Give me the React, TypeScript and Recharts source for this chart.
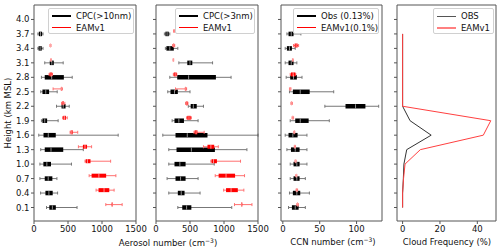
import React from 'react';
import { ScatterChart, Scatter, ErrorBar, XAxis, YAxis } from 'recharts';

const heights = [0.1, 0.4, 0.7, 1.0, 1.3, 1.6, 1.9, 2.2, 2.5, 2.8, 3.1, 3.4, 3.7];
const heightTicks = [0.1, 0.4, 0.7, 1.0, 1.3, 1.6, 1.9, 2.2, 2.5, 2.8, 3.1, 3.4, 3.7, 4.0];
const aerosolTicks = [0, 500, 1000, 1500];
const ccnTicks = [0, 50, 100];
const cloudTicks = [0, 20, 40];

// [whisker low, Q1, median, Q3, whisker high] per height level (0.1 ... 3.7 km)
const cpc10Obs = [
  [184, 225, 270, 321, 633],
  [97, 168, 219, 275, 347],
  [87, 158, 209, 270, 337],
  [87, 138, 189, 250, 551],
  [99, 158, 250, 430, 725],
  [70, 140, 210, 320, 1238],
  [109, 124, 158, 193, 355],
  [331, 405, 429, 464, 518],
  [99, 124, 173, 222, 341],
  [109, 158, 260, 439, 562],
  [158, 232, 262, 291, 429],
  [57, 67, 90, 114, 133],
  [57, 71, 95, 119, 133],
];
const cpc10Model = [
  [1056, 1140, 1150, 1160, 1296],
  [913, 949, 1030, 1107, 1178],
  [811, 847, 954, 1061, 1204],
  [750, 760, 786, 831, 1127],
  [653, 719, 750, 780, 847],
  [531, 540, 555, 570, 643],
  [420, 430, 450, 470, 489],
  [405, 415, 428, 440, 454],
  [281, 395, 405, 412, 418],
  [222, 230, 250, 268, 272],
  [245, 248, 250, 252, 255],
  [235, 238, 242, 246, 250],
  null,
];
const cpc3Obs = [
  [321, 386, 450, 520, 1114],
  [188, 321, 371, 420, 648],
  [163, 287, 361, 435, 619],
  [188, 272, 351, 435, 856],
  [188, 302, 520, 866, 1337],
  [100, 287, 460, 757, 1500],
  [237, 272, 336, 411, 619],
  [475, 510, 549, 599, 698],
  [173, 213, 272, 321, 500],
  [203, 312, 480, 881, 1104],
  [336, 460, 500, 534, 832],
  [138, 153, 203, 262, 321],
  [123, 138, 163, 188, 203],
];
const cpc3Model = [
  [1154, 1250, 1260, 1270, 1411],
  [995, 1030, 1104, 1203, 1292],
  [871, 921, 1030, 1163, 1302],
  [807, 817, 846, 896, 1243],
  [698, 757, 807, 856, 916],
  [559, 569, 590, 609, 708],
  [450, 460, 485, 510, 520],
  [435, 440, 452, 465, 470],
  [287, 425, 435, 443, 450],
  [255, 262, 282, 302, 305],
  [250, 252, 255, 258, 260],
  [245, 252, 260, 268, 275],
  [258, 262, 266, 270, 274],
];
const ccnObs = [
  [7.7, 12.3, 16.8, 21.4, 30.5],
  [9, 13.6, 19, 23.6, 36],
  [10, 14.5, 19, 22.7, 30.5],
  [10, 14.5, 19, 22.7, 32.7],
  [5.5, 11, 16.8, 22.7, 32.7],
  [3.2, 7.7, 13.6, 20, 32.7],
  [10, 16.8, 23.6, 35, 63],
  [57, 85, 98.6, 112, 130],
  [9, 13.6, 23.6, 36.4, 69],
  [4.5, 10, 14.5, 19, 26],
  [3.2, 7.7, 11.4, 14.5, 19],
  [3.2, 5.5, 9, 12.3, 16.8],
  [5.5, 7.7, 11.4, 14.5, 24.5],
];
const ccnModel = [
  [19, 19.5, 20, 20.5, 21],
  [18, 18.5, 19, 19.5, 20],
  [17.5, 18, 18.2, 18.5, 19],
  [16.5, 17, 17.3, 17.6, 18],
  [15.5, 16, 16.4, 16.8, 17.2],
  [14.8, 15.2, 15.5, 15.8, 16.2],
  [12.5, 13.2, 13.6, 14, 14.6],
  [11, 11.6, 12, 12.4, 13],
  [9, 9.6, 10, 10.4, 11],
  [10, 11, 14, 17, 17.5],
  [13, 13.4, 13.6, 13.8, 14.2],
  [14.5, 16, 18, 20, 21.4],
  null,
];
const cloudObs = [0, 0, 0.4, 0.7, 2.2, 15.3, 4, 0, 0, 0, 0, 0, 0];
const cloudModel = [0, 0, 0.5, 1.3, 9.5, 43.2, 47.2, 0, 0, 0, 0, 0, 0];

const MODEL_SHIFT = 0.06;
const FONT = '"DejaVu Sans", sans-serif';
const AX = '#555';
const TOP = 5;
const BOTTOM = 221;
const Y_DOMAIN = [-0.18, 4.3];
const XAXIS_H = 20;
const YAXIS_W = 24;

type Stats = number[] | null;

function boxRows(stats: Stats[], shift: number) {
  const rows: any[] = [];
  stats.forEach((s, i) => {
    if (!s) return;
    rows.push({
      h: heights[i] + shift,
      x: s[2],
      whisk: [s[2] - s[0], s[4] - s[2]],
      box: [s[2] - s[1], s[3] - s[2]],
    });
  });
  return rows;
}

const medianShape = (props: any) => {
  const { cx, cy } = props;
  if (cx == null || cy == null) return <g />;
  return <line x1={cx} x2={cx} y1={cy - 2} y2={cy + 2} stroke="#fff" strokeOpacity={0.7} strokeWidth={0.8} />;
};
const noShape = () => <g />;

const tickStyle = { fontSize: 8.5, fill: '#111', fontFamily: FONT };

function chartMargin(left: number, right: number) {
  return { top: TOP - 1, bottom: 252 - BOTTOM - XAXIS_H, left: left - YAXIS_W, right: 500 - right - 1 };
}

function PanelFrame(props: { left: number; right: number; xDomain: number[]; xTicks: number[]; showY: boolean; children: React.ReactNode }) {
  const { left, right, xDomain, xTicks, showY, children } = props;
  return (
    <div style={{ position: 'absolute', left: 0, top: 0 }}>
      <ScatterChart width={500} height={252} margin={chartMargin(left, right)}>
        <XAxis type="number" dataKey="x" domain={xDomain} ticks={xTicks} allowDataOverflow interval={0}
          height={XAXIS_H} tickSize={3} tickMargin={1.5} tick={tickStyle} tickLine={{ stroke: AX }} axisLine={{ stroke: AX }} />
        <XAxis xAxisId="top" orientation="top" type="number" domain={xDomain} allowDataOverflow height={1}
          tick={false} tickLine={false} axisLine={{ stroke: AX }} />
        <YAxis type="number" dataKey="h" domain={Y_DOMAIN} ticks={heightTicks} allowDataOverflow interval={0}
          width={YAXIS_W} tickSize={3} tickMargin={1.5} tick={tickStyle}
          tickFormatter={(v: number) => (showY ? v.toFixed(1) : '')} tickLine={{ stroke: AX }} axisLine={{ stroke: AX }} />
        <YAxis yAxisId="right" orientation="right" type="number" domain={Y_DOMAIN} allowDataOverflow width={1}
          tick={false} tickLine={false} axisLine={{ stroke: AX }} />
        {children}
      </ScatterChart>
    </div>
  );
}

function boxSeries(rows: any[], whiskColor: string, boxColor: string, boxW: number) {
  return (
    <Scatter data={rows} isAnimationActive={false} shape={medianShape}>
      <ErrorBar dataKey="whisk" direction="x" width={1.5} stroke={whiskColor} strokeWidth={1} isAnimationActive={false} />
      <ErrorBar dataKey="box" direction="x" width={0} stroke={boxColor} strokeWidth={boxW} isAnimationActive={false} />
    </Scatter>
  );
}

function BoxPanel(props: {
  left: number; right: number; xDomain: number[]; xTicks: number[];
  obs: Stats[]; model: Stats[]; showY: boolean;
}) {
  const { obs, model, ...rest } = props;
  return (
    <PanelFrame {...rest}>
      {boxSeries(boxRows(obs, 0), '#777', '#000', 4.5)}
      {boxSeries(boxRows(model, MODEL_SHIFT), '#ff7070', '#ff0000', 4)}
    </PanelFrame>
  );
}

function CloudPanel({ left, right }: { left: number; right: number }) {
  const obsRows = heights.map((h, i) => ({ h, x: cloudObs[i] }));
  const modelRows = heights.map((h, i) => ({ h, x: cloudModel[i] }));
  return (
    <PanelFrame left={left} right={right} xDomain={[-3, 50]} xTicks={cloudTicks} showY={false}>
      <Scatter data={obsRows} isAnimationActive={false} shape={noShape} line={{ stroke: '#333', strokeWidth: 1 }} />
      <Scatter data={modelRows} isAnimationActive={false} shape={noShape} line={{ stroke: '#ff4040', strokeWidth: 1 }} />
    </PanelFrame>
  );
}

function LegendBox({ left, width, items }: { left: number; width: number; items: { label: string; color: string; w: number }[] }) {
  return (
    <div style={{
      position: 'absolute', left, top: 8, width, height: 26, boxSizing: 'border-box',
      border: '1px solid #d0d0d0', borderRadius: 2, background: 'rgba(255,255,255,0.85)',
      fontFamily: FONT, fontSize: 8.5, color: '#111',
    }}>
      {items.map((it, i) => (
        <div key={i} style={{ position: 'absolute', left: 3, top: 2 + i * 11.5, height: 10, display: 'flex', alignItems: 'center' }}>
          <div style={{ width: 19, height: it.w, background: it.color }} />
          <span style={{ marginLeft: 5, whiteSpace: 'nowrap', lineHeight: '10px' }}>{it.label}</span>
        </div>
      ))}
    </div>
  );
}

const labelStyle: React.CSSProperties = {
  position: 'absolute', fontFamily: FONT, fontSize: 8.5, color: '#111', whiteSpace: 'nowrap',
  transform: 'translate(-50%, -50%)',
};

export default function App() {
  return (
    <div style={{ position: 'absolute', left: 0, top: 0, width: 500, height: 252, background: '#fff', overflow: 'hidden' }}>
      <BoxPanel left={34} right={136} xDomain={[0, 1500]} xTicks={aerosolTicks} obs={cpc10Obs} model={cpc10Model} showY />
      <BoxPanel left={156} right={258} xDomain={[0, 1500]} xTicks={aerosolTicks} obs={cpc3Obs} model={cpc3Model} showY={false} />
      <BoxPanel left={281} right={382} xDomain={[-2.5, 134.5]} xTicks={ccnTicks} obs={ccnObs} model={ccnModel} showY={false} />
      <CloudPanel left={397} right={496} />

      <LegendBox left={48} width={86} items={[{ label: 'CPC(>10nm)', color: '#000', w: 1.5 }, { label: 'EAMv1', color: '#ff0000', w: 1 }]} />
      <LegendBox left={175} width={80} items={[{ label: 'CPC(>3nm)', color: '#000', w: 1.5 }, { label: 'EAMv1', color: '#ff0000', w: 1 }]} />
      <LegendBox left={293} width={86} items={[{ label: 'Obs (0.13%)', color: '#000', w: 1.5 }, { label: 'EAMv1(0.1%)', color: '#ff0000', w: 1 }]} />
      <LegendBox left={433} width={61} items={[{ label: 'OBS', color: '#555', w: 1 }, { label: 'EAMv1', color: '#ff8080', w: 2 }]} />

      <div style={{ ...labelStyle, left: 8, top: 113, transform: 'translate(-50%, -50%) rotate(-90deg)' }}>Height (km MSL)</div>
      <div style={{ ...labelStyle, left: 168, top: 243 }}>Aerosol number (cm<sup style={{ fontSize: 6, verticalAlign: 'top', lineHeight: '6px' }}>−3</sup>)</div>
      <div style={{ ...labelStyle, left: 333, top: 242 }}>CCN number (cm<sup style={{ fontSize: 6, verticalAlign: 'top', lineHeight: '6px' }}>−3</sup>)</div>
      <div style={{ ...labelStyle, left: 447, top: 242 }}>Cloud Frequency (%)</div>
    </div>
  );
}
